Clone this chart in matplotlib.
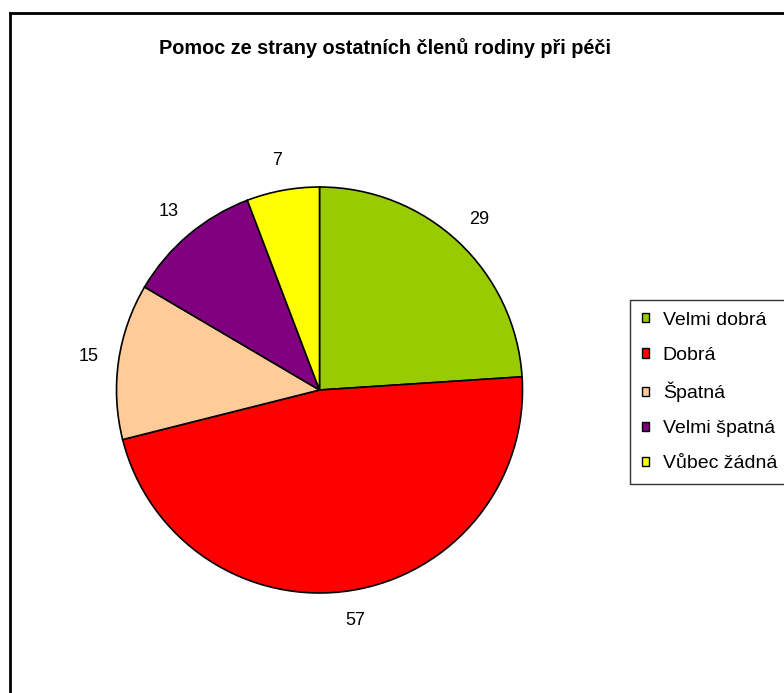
import matplotlib
matplotlib.use("Agg")
import matplotlib.pyplot as plt
import matplotlib.patches as patches
from matplotlib.lines import Line2D

plt.rcParams['font.family'] = ['Liberation Sans', 'DejaVu Sans']

# data
categories = ['Velmi dobrá', 'Dobrá', 'Špatná', 'Velmi špatná', 'Vůbec žádná']
values = [29, 57, 15, 13, 7]
colors = ['#99CC00', '#FF0000', '#FFCC99', '#800080', '#FFFF00']
title = 'Pomoc ze strany ostatních členů rodiny při péči'

W, H = 784, 693
fig = plt.figure(figsize=(W / 100, H / 100), dpi=100)

# outer frame (runs off the right and bottom edge)
fig.add_artist(Line2D([10 / W, 10 / W], [0, 1 - 13 / H], color='black', lw=2))
fig.add_artist(Line2D([10 / W, 1], [1 - 13 / H, 1 - 13 / H], color='black', lw=2))

fig.text(385 / W, 1 - 48 / H, title, ha='center', va='center',
         fontsize=14.3, fontweight='bold')

# pie axes, centre (319.5, 390) px, radius 203 px
cx, cy, r = 319.5, 390, 203
ax = fig.add_axes([(cx - r) / W, (H - cy - r) / H, 2 * r / W, 2 * r / H])
wedges, texts = ax.pie(values, colors=colors, startangle=90, counterclock=False,
                       labels=[str(v) for v in values], labeldistance=1.15,
                       wedgeprops=dict(edgecolor='black', linewidth=1.2),
                       textprops=dict(fontsize=13))
for t in texts:
    t.set_ha('center')
    t.set_va('center')
ax.set_xlim(-1, 1)
ax.set_ylim(-1, 1)
ax.set_aspect('auto')
ax.axis('off')

handles = [patches.Patch(facecolor=c, edgecolor='black', lw=1) for c in colors]
leg = fig.legend(handles, categories, loc='upper left',
                 bbox_to_anchor=(630 / W, 1 - 300 / H),
                 frameon=True, fancybox=False, fontsize=14,
                 handlelength=0.38, handleheight=0.38, handletextpad=0.7,
                 labelspacing=0.93, borderpad=0.6, borderaxespad=0)
leg.get_frame().set_edgecolor('black')
leg.get_frame().set_linewidth(1)

fig.savefig('out.png', dpi=100)
